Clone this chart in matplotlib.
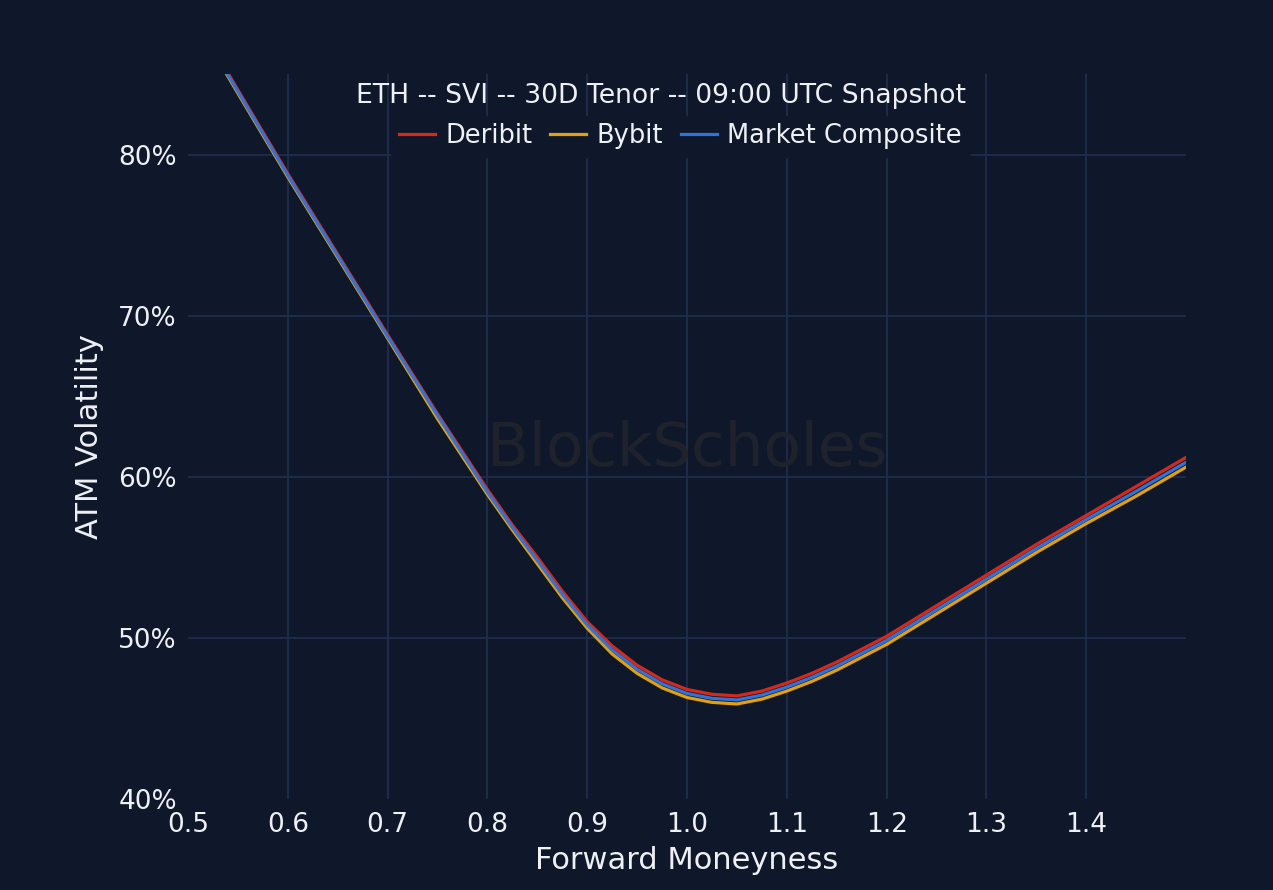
import matplotlib
matplotlib.use("Agg")
import matplotlib.pyplot as plt
from matplotlib.ticker import FuncFormatter

# forward moneyness grid
moneyness = [0.53, 0.55, 0.60, 0.65, 0.70, 0.75, 0.80, 0.825, 0.85, 0.875, 0.90,
             0.925, 0.95, 0.975, 1.00, 1.025, 1.05, 1.075, 1.10, 1.125, 1.15, 1.20,
             1.25, 1.30, 1.35, 1.40, 1.45, 1.50]

deribit = [86.1, 84.0, 78.8, 73.8, 68.8, 63.9, 59.2, 57.0, 55.0, 52.9, 51.0,
           49.5, 48.3, 47.4, 46.8, 46.5, 46.4, 46.7, 47.2, 47.8, 48.5, 50.1,
           52.0, 53.9, 55.8, 57.6, 59.4, 61.2]
bybit = [85.9, 83.8, 78.6, 73.6, 68.6, 63.6, 58.9, 56.7, 54.6, 52.5, 50.6,
         49.0, 47.8, 46.9, 46.3, 46.0, 45.9, 46.2, 46.7, 47.3, 48.0, 49.6,
         51.5, 53.4, 55.3, 57.1, 58.8, 60.6]
composite = [86.0, 83.9, 78.7, 73.7, 68.7, 63.8, 59.05, 56.85, 54.8, 52.7, 50.8,
             49.25, 48.05, 47.15, 46.55, 46.25, 46.15, 46.45, 46.95, 47.55, 48.25,
             49.85, 51.75, 53.65, 55.55, 57.35, 59.1, 60.9]

series_names = ["Deribit", "Bybit", "Market Composite"]
x_ticks = [0.5, 0.6, 0.7, 0.8, 0.9, 1.0, 1.1, 1.2, 1.3, 1.4]
y_ticks = [40, 50, 60, 70, 80]

bg = "#0f182b"
grid_c = "#1f2d4d"
txt = "#eef0f4"

fig = plt.figure(figsize=(12.73, 8.90), dpi=100, facecolor=bg)
ax = fig.add_axes([0.1477, 0.1022, 0.9317 - 0.1477, 0.9169 - 0.1022])
ax.set_facecolor(bg)

# watermark
ax.text(1.0, 61.7, "BlockScholes", ha="center", va="center",
        fontsize=44, color="#1f222b", zorder=1)

ax.plot(moneyness, deribit, color="#d42a1c", lw=2.3, label=series_names[0], zorder=3)
ax.plot(moneyness, bybit, color="#e0a010", lw=2.3, label=series_names[1], zorder=3)
ax.plot(moneyness, composite, color="#3272d8", lw=2.3, label=series_names[2], zorder=4)

ax.set_xlim(0.5, 1.5)
ax.set_ylim(40, 85)
ax.set_xticks(x_ticks)
ax.set_yticks(y_ticks)
ax.xaxis.set_major_formatter(FuncFormatter(lambda v, p: "%.1f" % v))
ax.yaxis.set_major_formatter(FuncFormatter(lambda v, p: "%d%%" % v))

# grid only on inner ticks, none on the left/bottom edges
for xv in x_ticks[1:]:
    ax.axvline(xv, color=grid_c, lw=1.3, zorder=0)
for yv in y_ticks[1:]:
    ax.axhline(yv, color=grid_c, lw=1.3, zorder=0)

for s in ax.spines.values():
    s.set_visible(False)
ax.tick_params(colors=txt, labelsize=19, length=0)
ax.tick_params(axis="x", pad=9)
ax.tick_params(axis="y", pad=8)

ax.set_xlabel("Forward Moneyness", color=txt, fontsize=22, labelpad=6)
ax.set_ylabel("ATM Volatility", color=txt, fontsize=22, labelpad=10)

ax.text(0.474, 0.9697, "ETH -- SVI -- 30D Tenor -- 09:00 UTC Snapshot", transform=ax.transAxes,
        ha="center", va="center", fontsize=19.2, color=txt, zorder=6)
leg = ax.legend(loc="center", bbox_to_anchor=(0.4935, 0.914), ncol=3, frameon=True,
                facecolor=bg, edgecolor=bg, framealpha=1, fontsize=18.5,
                handlelength=1.4, handletextpad=0.4, columnspacing=0.7,
                borderpad=0.3)
for t in leg.get_texts():
    t.set_color(txt)
leg.set_zorder(5)

fig.savefig("out.png", dpi=100, facecolor=bg)
